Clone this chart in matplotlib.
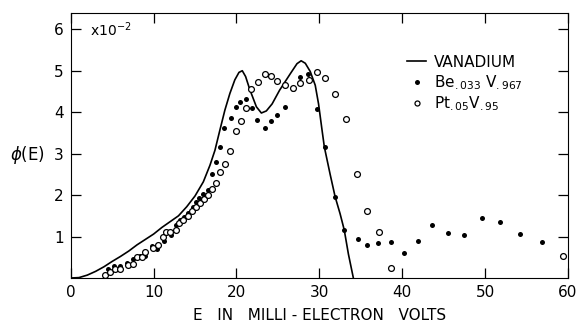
import numpy as np
import matplotlib
matplotlib.use('Agg')
import matplotlib.pyplot as plt
from matplotlib.lines import Line2D

# vanadium curve (E in meV, phi in units of 1e-2)
v_e = [0, 1, 2, 3, 4, 5, 6, 7, 8, 9, 10, 11, 12, 13, 14, 15, 16, 16.8, 17.4,
       18.0, 18.6, 19.2, 19.8, 20.3, 20.7, 21.1, 21.6, 22.4, 23.0, 23.6, 24.3,
       25.2, 26.5, 27.3, 27.8, 28.3, 28.9, 29.5, 29.9, 30.3, 30.6, 31.3, 31.9,
       32.5, 33.0, 33.5, 34.1]
v_phi = [0, 0.01, 0.07, 0.16, 0.27, 0.40, 0.52, 0.65, 0.80, 0.93, 1.06, 1.22,
         1.36, 1.50, 1.72, 1.98, 2.32, 2.72, 3.08, 3.57, 4.05, 4.45, 4.78, 4.96,
         5.00, 4.86, 4.55, 4.13, 3.98, 4.03, 4.20, 4.53, 4.93, 5.17, 5.24, 5.18,
         4.98, 4.65, 4.20, 3.60, 3.16, 2.50, 1.96, 1.55, 1.16, 0.58, 0.0]

# Be.033 V.967 (filled dots)
be_e = [4.5, 5.2, 6.0, 6.8, 7.5, 8.3, 9.0, 9.8, 10.4, 11.2, 12.1, 12.7, 13.2,
        13.7, 14.1, 14.7, 15.1, 15.5, 16.0, 16.6, 17.1, 17.5, 18.0, 18.5, 19.3,
        19.9, 20.4, 21.1, 21.9, 22.5, 23.4, 24.2, 24.9, 25.9, 26.8, 27.7, 28.6,
        29.7, 30.7, 31.9, 33.0, 34.6, 35.8, 37.1, 38.6, 40.2, 41.9, 43.6, 45.5,
        47.5, 49.6, 51.8, 54.2, 56.8]
be_phi = [0.21, 0.30, 0.29, 0.37, 0.45, 0.53, 0.54, 0.77, 0.69, 0.90, 1.04,
          1.28, 1.40, 1.48, 1.58, 1.72, 1.83, 1.93, 2.02, 2.12, 2.52, 2.80, 3.16,
          3.62, 3.87, 4.13, 4.24, 4.33, 4.10, 3.81, 3.61, 3.78, 3.94, 4.13, 4.55,
          4.84, 4.93, 4.08, 3.16, 1.95, 1.16, 0.94, 0.80, 0.84, 0.86, 0.61, 0.90,
          1.28, 1.08, 1.04, 1.44, 1.35, 1.07, 0.87]

# Pt.05 V.95 (open circles)
pt_e = [4.1, 4.7, 5.3, 5.9, 6.9, 7.5, 8.0, 8.6, 9.0, 9.9, 10.5, 11.1, 11.5,
        12.0, 12.7, 13.1, 13.6, 14.1, 14.6, 15.1, 15.6, 16.1, 16.6, 17.0, 17.5,
        18.0, 18.6, 19.2, 19.9, 20.5, 21.1, 21.8, 22.6, 23.4, 24.2, 24.9, 25.9,
        26.8, 27.7, 28.7, 29.7, 30.7, 31.9, 33.2, 34.5, 35.8, 37.2, 38.7, 59.4]
pt_phi = [0.07, 0.15, 0.21, 0.21, 0.31, 0.35, 0.50, 0.51, 0.62, 0.72, 0.80,
          0.98, 1.10, 1.10, 1.17, 1.32, 1.40, 1.50, 1.61, 1.72, 1.80, 1.90, 2.00,
          2.14, 2.30, 2.56, 2.76, 3.07, 3.54, 3.78, 4.11, 4.56, 4.74, 4.93, 4.88,
          4.76, 4.65, 4.59, 4.71, 4.78, 4.98, 4.82, 4.45, 3.83, 2.51, 1.61, 1.12,
          0.24, 0.54]

x_ticks = [0, 10, 20, 30, 40, 50, 60]
y_ticks = [1, 2, 3, 4, 5, 6]


def main():
    fig = plt.figure(figsize=(5.81, 3.22), dpi=100)
    ax = fig.add_axes([0.1217, 0.1366, 0.856, 0.824])

    ax.plot(v_e, v_phi, color='black', lw=1.2)
    ax.plot(be_e, be_phi, 'o', color='black', ms=3.6, mew=0)
    ax.plot(pt_e, pt_phi, 'o', mfc='white', mec='black', ms=4.2, mew=0.9)

    ax.set_xlim(0, 60)
    ax.set_ylim(0, 6.4)
    ax.set_xticks(x_ticks)
    ax.set_yticks(y_ticks)
    ax.tick_params(direction='in', length=7, width=0.9, labelsize=11,
                   top=True, right=True, pad=5)
    for s in ax.spines.values():
        s.set_linewidth(0.8)

    ax.set_xlabel('E   IN   MILLI - ELECTRON   VOLTS', fontsize=11, labelpad=6)
    fig.text(0.017, 0.52, r'$\phi$(E)', fontsize=12, va='center', ha='left')
    ax.text(2.3, 6.0, r'x10$^{-2}$', fontsize=10, va='center', ha='left')

    handles = [Line2D([], [], color='black', lw=1.2),
               Line2D([], [], ls='', marker='o', color='black', ms=3.6, mew=0),
               Line2D([], [], ls='', marker='o', mfc='white', mec='black',
                      ms=3.6, mew=0.9)]
    labels = ['VANADIUM', r'Be$_{.033}$ V$_{.967}$', r'Pt$_{.05}$V$_{.95}$']
    ax.legend(handles, labels, loc='upper left', bbox_to_anchor=(0.66, 0.87),
              frameon=False, fontsize=11, handlelength=1.3, handletextpad=0.5,
              labelspacing=0.2, borderpad=0)

    fig.savefig('out.png', dpi=100)


if __name__ == '__main__':
    main()
